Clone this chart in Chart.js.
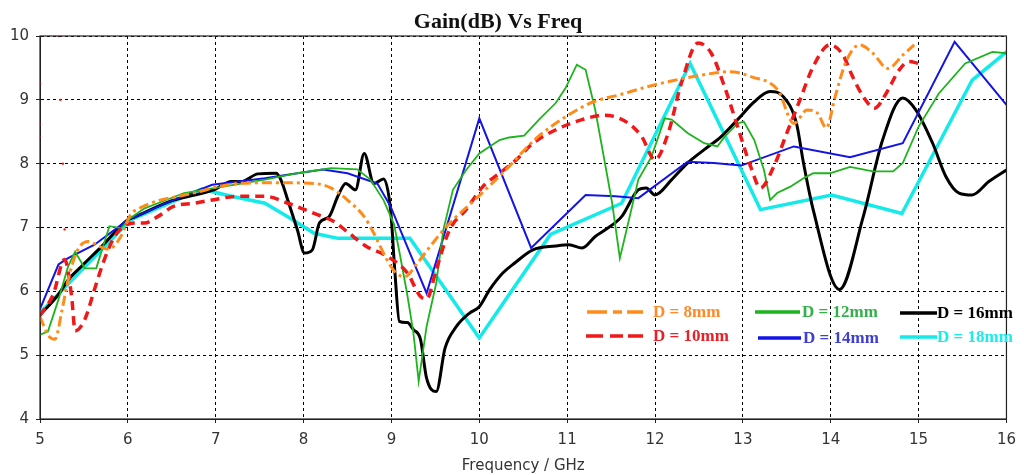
<!DOCTYPE html>
<html>
<head>
<meta charset="utf-8">
<script src="https://cdn.jsdelivr.net/npm/chart.js@4/dist/chart.umd.min.js"></script>
<style>
  html, body { margin: 0; padding: 0; background: #fff; }
  #wrap { width: 1024px; height: 475px; }
</style>
</head>
<body>
<div id="wrap"><canvas id="c" width="1024" height="475"></canvas></div>
<script>
// ---- data ----
const chartTitle = 'Gain(dB) Vs Freq';
const xAxisTitle = 'Frequency / GHz';
const seriesLabels = ['D = 8mm', 'D = 10mm', 'D = 12mm', 'D = 14mm', 'D = 16mm', 'D = 18mm'];

const freq8 = [5.0, 5.1, 5.17, 5.25, 5.32, 5.43, 5.55, 5.68, 5.78, 5.92, 6.03, 6.13, 6.32, 6.58, 6.81, 7.03, 7.26, 7.56, 7.82, 8.12, 8.31, 8.5, 8.69, 8.8, 8.95, 9.05, 9.15, 9.3, 9.45, 9.63, 10.0, 10.3, 10.65, 11.0, 11.3, 11.6, 11.9, 12.2, 12.5, 12.85, 13.1, 13.4, 13.58, 13.73, 13.85, 13.95, 14.05, 14.18, 14.33, 14.48, 14.65, 14.82, 14.95];
const gain8 = [5.6, 5.3, 5.25, 5.7, 6.18, 6.65, 6.78, 6.7, 6.66, 6.86, 7.2, 7.30, 7.41, 7.49, 7.56, 7.64, 7.69, 7.70, 7.70, 7.69, 7.62, 7.43, 7.17, 6.91, 6.49, 6.29, 6.23, 6.45, 6.72, 7.02, 7.5, 7.9, 8.4, 8.75, 8.97, 9.08, 9.2, 9.3, 9.38, 9.44, 9.36, 9.15, 8.63, 8.84, 8.79, 8.56, 9.05, 9.62, 9.86, 9.73, 9.49, 9.7, 9.86];

const freq10 = [5.0, 5.15, 5.28, 5.36, 5.40, 5.51, 5.62, 5.73, 5.85, 5.96, 6.07, 6.19, 6.34, 6.52, 6.75, 6.96, 7.26, 7.56, 7.82, 8.12, 8.35, 8.5, 8.72, 8.95, 9.18, 9.33, 9.40, 9.51, 9.66, 9.85, 10.04, 10.23, 10.42, 10.61, 10.87, 11.17, 11.43, 11.70, 11.85, 12.0, 12.15, 12.30, 12.49, 12.64, 12.79, 12.94, 13.09, 13.20, 13.35, 13.50, 13.65, 13.80, 13.99, 14.14, 14.25, 14.37, 14.50, 14.63, 14.78, 14.89, 15.0];
const gain10 = [5.62, 5.95, 6.5, 5.92, 5.38, 5.56, 6.03, 6.49, 6.86, 7.02, 7.07, 7.07, 7.17, 7.33, 7.38, 7.43, 7.49, 7.49, 7.38, 7.22, 7.09, 6.93, 6.70, 6.55, 6.29, 5.92, 5.88, 6.34, 6.96, 7.28, 7.64, 7.85, 8.06, 8.32, 8.53, 8.69, 8.76, 8.63, 8.42, 8.06, 8.48, 9.26, 9.89, 9.73, 9.21, 8.58, 7.95, 7.62, 7.95, 8.48, 9.0, 9.52, 9.86, 9.70, 9.36, 9.05, 8.87, 9.10, 9.47, 9.60, 9.57];

const freq12 = [5.0, 5.09, 5.21, 5.32, 5.40, 5.51, 5.64, 5.79, 5.92, 6.03, 6.19, 6.34, 6.64, 7.0, 7.56, 7.93, 8.31, 8.61, 8.76, 8.91, 9.03, 9.10, 9.18, 9.25, 9.31, 9.40, 9.51, 9.59, 9.70, 9.85, 10.0, 10.23, 10.34, 10.51, 10.68, 10.87, 10.98, 11.11, 11.21, 11.32, 11.43, 11.51, 11.60, 11.72, 11.81, 11.96, 12.11, 12.19, 12.37, 12.56, 12.71, 12.79, 12.94, 13.01, 13.13, 13.24, 13.31, 13.39, 13.54, 13.69, 13.80, 13.99, 14.22, 14.48, 14.71, 14.82, 15.0, 15.23, 15.53, 15.84, 16.0];
const gain12 = [5.32, 5.37, 5.87, 6.39, 6.62, 6.36, 6.36, 7.02, 6.99, 7.15, 7.30, 7.38, 7.54, 7.62, 7.75, 7.85, 7.93, 7.91, 7.75, 7.43, 7.05, 6.55, 5.95, 5.35, 4.59, 5.45, 6.13, 6.96, 7.59, 7.90, 8.16, 8.37, 8.41, 8.44, 8.69, 8.95, 9.18, 9.55, 9.47, 8.84, 8.01, 7.40, 6.52, 7.22, 7.75, 8.11, 8.71, 8.69, 8.48, 8.32, 8.27, 8.42, 8.63, 8.66, 8.37, 7.90, 7.43, 7.54, 7.64, 7.77, 7.85, 7.85, 7.95, 7.88, 7.88, 8.01, 8.58, 9.10, 9.57, 9.75, 9.73];

const freq14 = [5.0, 5.21, 5.32, 5.62, 6.0, 6.5, 6.96, 7.56, 7.93, 8.22, 8.50, 8.84, 8.99, 9.40, 10.0, 10.59, 11.21, 11.55, 11.81, 12.37, 12.67, 12.98, 13.58, 14.22, 14.82, 15.41, 16.0];
const gain14 = [5.72, 6.42, 6.52, 6.73, 7.12, 7.42, 7.67, 7.77, 7.85, 7.91, 7.85, 7.69, 7.33, 5.97, 8.71, 6.68, 7.51, 7.49, 7.46, 8.03, 8.01, 7.97, 8.27, 8.10, 8.32, 9.91, 8.92];

const freq16 = [5.0, 5.21, 5.32, 5.47, 5.70, 6.0, 6.07, 6.5, 6.98, 7.18, 7.29, 7.48, 7.69, 7.75, 7.82, 7.93, 8.01, 8.10, 8.18, 8.29, 8.39, 8.48, 8.59, 8.69, 8.80, 8.91, 8.99, 9.04, 9.09, 9.18, 9.25, 9.33, 9.40, 9.51, 9.61, 9.74, 9.89, 10.0, 10.12, 10.27, 10.40, 10.61, 10.87, 11.02, 11.17, 11.32, 11.43, 11.62, 11.81, 11.90, 12.0, 12.19, 12.37, 12.56, 12.75, 12.94, 13.13, 13.31, 13.46, 13.61, 13.69, 13.80, 14.10, 14.37, 14.59, 14.82, 14.97, 15.16, 15.31, 15.46, 15.61, 15.80, 16.0];
const gain16 = [5.63, 5.95, 6.18, 6.39, 6.70, 7.12, 7.16, 7.42, 7.59, 7.72, 7.72, 7.84, 7.85, 7.72, 7.43, 6.96, 6.60, 6.65, 7.07, 7.17, 7.49, 7.69, 7.59, 8.16, 7.69, 7.76, 7.28, 6.29, 5.53, 5.51, 5.40, 5.25, 4.64, 4.43, 5.11, 5.45, 5.66, 5.76, 6.03, 6.29, 6.44, 6.65, 6.71, 6.73, 6.68, 6.86, 6.96, 7.17, 7.59, 7.62, 7.51, 7.75, 8.01, 8.22, 8.42, 8.69, 8.97, 9.13, 9.05, 8.63, 8.01, 7.28, 6.03, 7.17, 8.37, 9.03, 8.84, 8.32, 7.80, 7.54, 7.51, 7.72, 7.90];

const freq18 = [5.0, 6.03, 6.84, 7.18, 7.56, 7.82, 8.12, 8.39, 9.21, 10.0, 10.81, 11.62, 12.40, 13.20, 14.01, 14.81, 15.61, 16.0];
const gain18 = [5.66, 7.12, 7.60, 7.49, 7.38, 7.17, 6.91, 6.83, 6.83, 5.27, 6.89, 7.38, 9.57, 7.28, 7.51, 7.22, 9.31, 9.75];

// stray red marks near the left axis in the reference
const strayFreq = [5.21, 5.0, 5.23, 5.0, 5.0, 5.26, 5.28];
const strayGain = [10.0, 9.26, 9.0, 8.61, 8.42, 8.0, 6.97];

const xTicks = [5, 6, 7, 8, 9, 10, 11, 12, 13, 14, 15, 16];
const yTicks = [4, 5, 6, 7, 8, 9, 10];

// ---- helpers ----
const pts = (fx, gy) => fx.map((f, i) => ({ x: f, y: gy[i] }));

const styles = [
  { color: '#FF8C1A', legendText: '#FF8A2A', width: 3, dash: [10, 4, 3, 4], mono: true },
  { color: '#F01818', legendText: '#E82028', width: 3.5, dash: [9, 6], mono: true },
  { color: '#1DB41D', legendText: '#33B04A', width: 1.8, dash: [], mono: false },
  { color: '#1414E6', legendText: '#4040D0', width: 2, dash: [], mono: false },
  { color: '#000000', legendText: '#000000', width: 3, dash: [], mono: true },
  { color: '#14EAEA', legendText: '#14EEEE', width: 3.5, dash: [], mono: false }
];
const seriesData = [pts(freq8, gain8), pts(freq10, gain10), pts(freq12, gain12), pts(freq14, gain14), pts(freq16, gain16), pts(freq18, gain18)];

const datasets = seriesData.map((d, i) => ({
  label: seriesLabels[i],
  data: d,
  showLine: true,
  borderColor: styles[i].color,
  backgroundColor: styles[i].color,
  borderWidth: styles[i].width,
  borderDash: styles[i].dash,
  pointRadius: 0,
  pointHoverRadius: 0,
  cubicInterpolationMode: styles[i].mono ? 'monotone' : 'default',
  tension: 0,
  fill: false
}));
datasets.push({
  label: 'stray',
  data: pts(strayFreq, strayGain),
  showLine: false,
  pointRadius: 1.2,
  pointBackgroundColor: '#F01818',
  pointBorderWidth: 0
});

// legend layout inside the plot (positions are styling only)
const legendSlots = [
  { x1: 587, x2: 643, y: 312, tx: 653, sdash: [20, 6, 9, 5, 17] },
  { x1: 586, x2: 643, y: 336, tx: 653, sdash: [17, 7, 13, 5, 15] },
  { x1: 755, x2: 800, y: 312, tx: 802 },
  { x1: 758, x2: 801, y: 338, tx: 803 },
  { x1: 900, x2: 937, y: 313, tx: 937 },
  { x1: 900, x2: 937, y: 337, tx: 937 }
];

const decor = {
  id: 'decor',
  beforeDraw(chart) {
    const ctx = chart.ctx;
    ctx.save();
    ctx.fillStyle = '#fff';
    ctx.fillRect(0, 0, chart.width, chart.height);
    ctx.restore();
  },
  afterDraw(chart) {
    const ctx = chart.ctx;
    const a = chart.chartArea;
    ctx.save();
    // frame
    ctx.strokeStyle = '#222';
    ctx.lineWidth = 1.2;
    ctx.setLineDash([]);
    ctx.strokeRect(a.left, a.top, a.right - a.left, a.bottom - a.top);
    // title
    ctx.fillStyle = '#111';
    ctx.font = 'bold 22px "Liberation Serif", "Times New Roman", serif';
    ctx.textAlign = 'center';
    ctx.textBaseline = 'alphabetic';
    ctx.fillText(chartTitle, 498, 28);
    // legend
    ctx.font = 'bold 17px "Liberation Serif", "Times New Roman", serif';
    ctx.textAlign = 'left';
    ctx.textBaseline = 'middle';
    legendSlots.forEach((s, i) => {
      const st = styles[i];
      ctx.strokeStyle = st.color;
      ctx.lineWidth = 3.5;
      if (s.sdash) {
        let x = s.x1, on = true;
        ctx.beginPath();
        for (const len of s.sdash) {
          if (on) { ctx.moveTo(x, s.y); ctx.lineTo(Math.min(x + len, s.x2), s.y); }
          x += len; on = !on;
        }
        ctx.stroke();
      } else {
        ctx.beginPath();
        ctx.moveTo(s.x1, s.y);
        ctx.lineTo(s.x2, s.y);
        ctx.stroke();
      }
      ctx.fillStyle = st.legendText;
      ctx.fillText(seriesLabels[i], s.tx, s.y + 1);
    });
    ctx.restore();
  }
};

new Chart(document.getElementById('c'), {
  type: 'scatter',
  data: { datasets },
  options: {
    responsive: false,
    animation: false,
    devicePixelRatio: 1,
    events: [],
    layout: { padding: { top: 36, right: 9, left: 0, bottom: 0 }, autoPadding: false },
    plugins: { legend: { display: false }, tooltip: { enabled: false }, title: { display: false } },
    scales: {
      x: {
        type: 'linear',
        min: 5, max: 16,
        afterBuildTicks: (s) => { s.ticks = xTicks.map(v => ({ value: v })); },
        afterFit: (s) => { s.height = 56; },
        grid: { color: '#000', lineWidth: 1, drawTicks: true, tickLength: 4, tickColor: '#222', tickBorderDash: [] },
        border: { display: true, color: '#222', width: 1, dash: [3, 3] },
        ticks: { color: '#333', padding: 8, font: { family: '"DejaVu Sans", Verdana, sans-serif', size: 15 }, maxRotation: 0, autoSkip: false },
        title: { display: true, text: xAxisTitle, color: '#333', padding: { top: 0, bottom: 0 }, font: { family: '"DejaVu Sans", Verdana, sans-serif', size: 15 } }
      },
      y: {
        type: 'linear',
        min: 4, max: 10,
        afterBuildTicks: (s) => { s.ticks = yTicks.map(v => ({ value: v })); },
        afterFit: (s) => { s.width = 40; },
        grid: { color: '#000', lineWidth: 1, drawTicks: true, tickLength: 4, tickColor: '#222', tickBorderDash: [] },
        border: { display: true, color: '#222', width: 1, dash: [3, 3] },
        ticks: { color: '#333', padding: 7, font: { family: '"DejaVu Sans", Verdana, sans-serif', size: 15 }, autoSkip: false }
      }
    }
  },
  plugins: [decor]
});
</script>
</body>
</html>
